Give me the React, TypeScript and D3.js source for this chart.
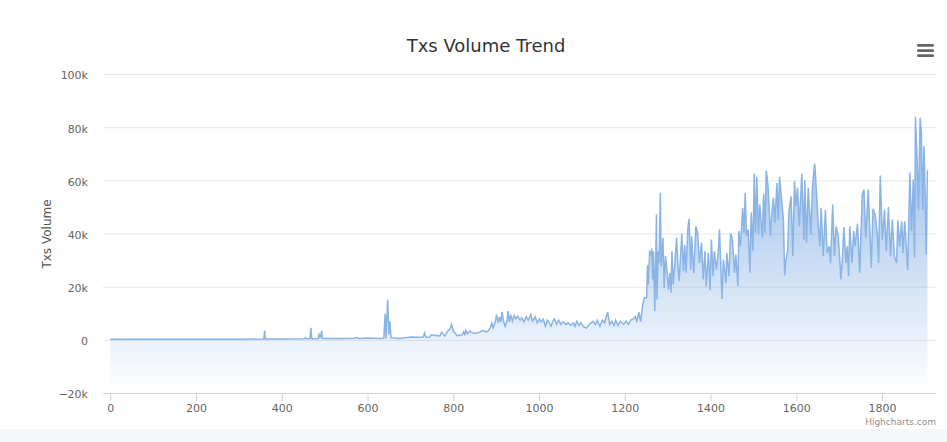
import * as d3 from "d3";
import { useEffect, useRef } from "react";

const title = "Txs Volume Trend";
const yTitle = "Txs Volume";
const credit = "Highcharts.com";
const xTicks = [0, 200, 400, 600, 800, 1000, 1200, 1400, 1600, 1800];
const yTicks = [-20, 0, 20, 40, 60, 80, 100];

// read off the picture, not every tx index is kept
const txIndex = [
  0, 100, 200, 300, 358, 360, 362, 364, 400, 452, 455, 458, 466, 468, 470, 485, 487, 490, 493, 495, 540, 570, 575, 580,
  598, 630, 638, 641, 643, 647, 650, 652, 655, 676, 687, 703, 718, 730, 733, 736, 745, 748, 769, 773, 780, 788, 792,
  796, 800, 804, 809, 821, 824, 827, 829, 833, 838, 842, 850, 862, 869, 877, 881, 886, 890, 893, 898, 901, 905, 908,
  911, 914, 917, 921, 925, 928, 931, 934, 938, 942, 946, 950, 956, 960, 965, 970, 975, 981, 985, 991, 996, 1001, 1005,
  1010, 1015, 1019, 1024, 1028, 1032, 1036, 1041, 1046, 1051, 1056, 1063, 1068, 1074, 1080, 1084, 1088, 1093, 1098,
  1104, 1111, 1117, 1122, 1126, 1132, 1136, 1142, 1148, 1153, 1160, 1165, 1170, 1175, 1179, 1184, 1190, 1197, 1203,
  1209, 1214, 1220, 1225, 1228, 1233, 1237, 1242, 1246, 1251, 1253, 1255, 1258, 1261, 1263, 1265, 1267, 1270, 1274,
  1275, 1278, 1280, 1283, 1285, 1289, 1292, 1295, 1299, 1302, 1305, 1308, 1310, 1313, 1317, 1321, 1324, 1327, 1333,
  1337, 1340, 1343, 1347, 1350, 1354, 1356, 1361, 1366, 1370, 1374, 1379, 1383, 1387, 1390, 1395, 1399, 1402, 1406,
  1409, 1414, 1418, 1421, 1424, 1427, 1430, 1436, 1438, 1443, 1447, 1451, 1456, 1459, 1464, 1466, 1470, 1475, 1478,
  1481, 1484, 1488, 1492, 1495, 1499, 1502, 1505, 1508, 1512, 1515, 1521, 1524, 1527, 1530, 1534, 1540, 1543, 1547,
  1550, 1555, 1558, 1561, 1566, 1570, 1573, 1576, 1580, 1583, 1588, 1592, 1596, 1599, 1603, 1607, 1613, 1618, 1620,
  1624, 1628, 1634, 1638, 1643, 1648, 1651, 1655, 1658, 1663, 1668, 1672, 1677, 1680, 1685, 1689, 1693, 1698, 1702,
  1704, 1708, 1711, 1716, 1719, 1722, 1725, 1730, 1734, 1737, 1743, 1748, 1754, 1758, 1762, 1768, 1775, 1779, 1784,
  1789, 1792, 1796, 1801, 1806, 1810, 1815, 1820, 1824, 1829, 1834, 1837, 1841, 1846, 1849, 1853, 1860, 1865, 1869,
  1873, 1876, 1878, 1882, 1885, 1889, 1892, 1895, 1898, 1901, 1903, 1906,
];
const txVolumeK = [
  0.2, 0.2, 0.2, 0.2, 0.3, 3.5, 0.3, 0.3, 0.3, 0.4, 0.8, 0.4, 0.5, 4.5, 0.4, 0.5, 2.0, 0.6, 3.5, 0.5, 0.5, 0.6, 0.9,
  0.5, 0.7, 0.5, 0.6, 9.8, 0.5, 15.1, 2.0, 7.0, 0.8, 0.5, 0.8, 1.1, 1.0, 1.1, 2.6, 1.0, 1.1, 1.8, 1.5, 2.9, 1.4, 3.6,
  3.9, 5.8, 3.3, 2.6, 1.6, 1.9, 3.0, 2.0, 3.6, 2.3, 3.3, 2.9, 2.4, 2.9, 3.6, 2.9, 3.3, 4.5, 6.4, 4.5, 6.7, 9.5, 6.4,
  8.7, 6.7, 10.5, 7.0, 5.1, 7.0, 10.8, 6.7, 9.5, 7.0, 9.2, 7.9, 8.9, 7.4, 8.3, 6.7, 8.7, 7.4, 9.5, 7.0, 8.7, 6.4, 7.9,
  6.7, 7.7, 5.1, 7.4, 6.4, 5.1, 7.0, 7.9, 5.8, 7.4, 5.8, 6.8, 5.8, 6.4, 5.4, 6.4, 5.1, 7.0, 5.4, 6.4, 4.9, 4.4, 5.8,
  6.4, 7.0, 5.8, 7.4, 5.1, 7.4, 6.4, 10.4, 5.8, 7.0, 5.4, 7.4, 5.4, 7.0, 5.8, 7.0, 5.8, 7.4, 7.9, 8.7, 6.7, 10.4, 6.8,
  13.3, 15.8, 15.8, 28.1, 20.8, 33.0, 32.1, 34.3, 22.7, 33.3, 10.8, 47.1, 15.2, 33.3, 28.9, 55.3, 27.7, 38.4, 19.5,
  31.5, 25.2, 18.9, 25.2, 17.7, 33.3, 20.8, 28.9, 38.4, 27.7, 22.1, 40.0, 25.8, 35.8, 25.2, 41.5, 45.5, 26.4, 39.0,
  25.2, 42.7, 40.2, 28.9, 36.5, 22.7, 33.3, 20.2, 32.7, 18.7, 37.7, 23.9, 33.3, 26.4, 32.7, 41.7, 27.7, 15.4, 30.2,
  21.4, 32.7, 23.9, 40.2, 37.7, 25.2, 32.1, 20.2, 40.9, 35.2, 49.6, 40.2, 55.3, 39.0, 41.5, 25.2, 48.0, 33.3, 62.6,
  40.2, 61.3, 39.6, 50.9, 38.4, 55.0, 40.2, 63.7, 58.4, 39.0, 47.8, 53.4, 44.0, 59.0, 45.3, 61.3, 52.8, 45.3, 24.2,
  30.2, 33.3, 48.4, 54.0, 31.5, 59.7, 50.3, 57.2, 42.7, 62.6, 37.7, 60.0, 36.5, 57.2, 39.6, 58.4, 66.3, 54.0, 44.0,
  35.2, 49.6, 31.5, 48.8, 32.7, 35.2, 28.7, 50.9, 31.5, 42.7, 39.0, 28.9, 22.7, 31.5, 42.4, 28.9, 35.2, 23.9, 42.7,
  28.9, 40.9, 35.2, 43.7, 25.2, 54.7, 56.5, 38.4, 56.5, 27.1, 49.3, 47.1, 40.2, 28.9, 61.8, 37.7, 49.0, 33.3, 50.0,
  31.5, 45.3, 31.5, 28.9, 45.0, 35.2, 44.6, 32.7, 44.6, 26.2, 62.8, 40.9, 60.3, 30.8, 83.9, 67.8, 49.0, 83.5, 77.9,
  49.0, 72.8, 52.8, 32.1, 63.8,
];

const W = 947;
const H = 442;
const left = 103;
const right = 936;
const top = 74;
const bottom = 393;

export default function App() {
  const ref = useRef<SVGSVGElement | null>(null);

  useEffect(() => {
    const svg = d3.select(ref.current);
    svg.selectAll("*").remove();

    const x = d3.scaleLinear().domain([-17, 1926]).range([left, right]);
    const y = d3.scaleLinear().domain([-20, 100]).range([bottom, top]);
    const font = "'DejaVu Sans', sans-serif";

    svg.append("rect").attr("width", W).attr("height", H).attr("fill", "#f5f7fa");
    svg.append("rect").attr("width", W).attr("height", 429).attr("fill", "#ffffff");

    const grad = svg
      .append("defs")
      .append("linearGradient")
      .attr("id", "volFill")
      .attr("x1", 0)
      .attr("y1", 0)
      .attr("x2", 0)
      .attr("y2", 1);
    grad.append("stop").attr("offset", 0).attr("stop-color", "#7cabe3").attr("stop-opacity", 0.85);
    grad.append("stop").attr("offset", 1).attr("stop-color", "#7cabe3").attr("stop-opacity", 0);

    const yAxis = svg
      .append("g")
      .attr("transform", `translate(${left},0)`)
      .call(
        d3
          .axisLeft(y)
          .tickValues(yTicks)
          .tickSize(-(right - left))
          .tickPadding(15)
          .tickFormat((d) => (d === 0 ? "0" : `${d}k`.replace("-", "\u2212"))),
      );
    yAxis.select(".domain").remove();
    yAxis.selectAll("line").attr("stroke", "#e6e6e6");
    yAxis
      .selectAll("text")
      .attr("dy", "0.45em")
      .attr("fill", "#666666")
      .attr("font-size", 11)
      .attr("font-family", font);

    const area = d3
      .area<number>()
      .x((_, i) => x(txIndex[i]))
      .y0(y(-20))
      .y1((d) => y(d));
    const line = d3
      .line<number>()
      .x((_, i) => x(txIndex[i]))
      .y((d) => y(d));

    svg.append("path").attr("d", area(txVolumeK)).attr("fill", "url(#volFill)");
    svg
      .append("path")
      .attr("d", line(txVolumeK))
      .attr("fill", "none")
      .attr("stroke", "#8ab4e6")
      .attr("stroke-width", 1.5);

    const xAxis = svg
      .append("g")
      .attr("transform", `translate(0,${bottom})`)
      .call(d3.axisBottom(x).tickValues(xTicks).tickSize(8).tickSizeOuter(0).tickPadding(3).tickFormat(d3.format("d")));
    xAxis.select(".domain").attr("stroke", "#d0d3dc");
    xAxis.selectAll("line").attr("stroke", "#d0d3dc");
    xAxis
      .selectAll("text")
      .attr("fill", "#666666")
      .attr("font-size", 11)
      .attr("font-family", font);

    svg
      .append("text")
      .attr("x", 486)
      .attr("y", 52)
      .attr("text-anchor", "middle")
      .attr("font-family", font)
      .attr("font-size", 18)
      .attr("fill", "#333333")
      .text(title);

    svg
      .append("text")
      .attr("transform", "translate(51,234) rotate(-90)")
      .attr("text-anchor", "middle")
      .attr("font-family", font)
      .attr("font-size", 12)
      .attr("fill", "#555555")
      .text(yTitle);

    svg
      .append("text")
      .attr("x", 936)
      .attr("y", 425)
      .attr("text-anchor", "end")
      .attr("font-family", font)
      .attr("font-size", 9)
      .attr("fill", "#909090")
      .text(credit);

    // export menu icon
    svg
      .append("g")
      .selectAll("rect")
      .data([44, 49.3, 54.3])
      .join("rect")
      .attr("x", 917)
      .attr("y", (d) => d)
      .attr("width", 17)
      .attr("height", 2.7)
      .attr("rx", 1.2)
      .attr("fill", "#666666");
  }, []);

  return <svg ref={ref} width={W} height={H} style={{ position: "absolute", left: 0, top: 0 }} />;
}
